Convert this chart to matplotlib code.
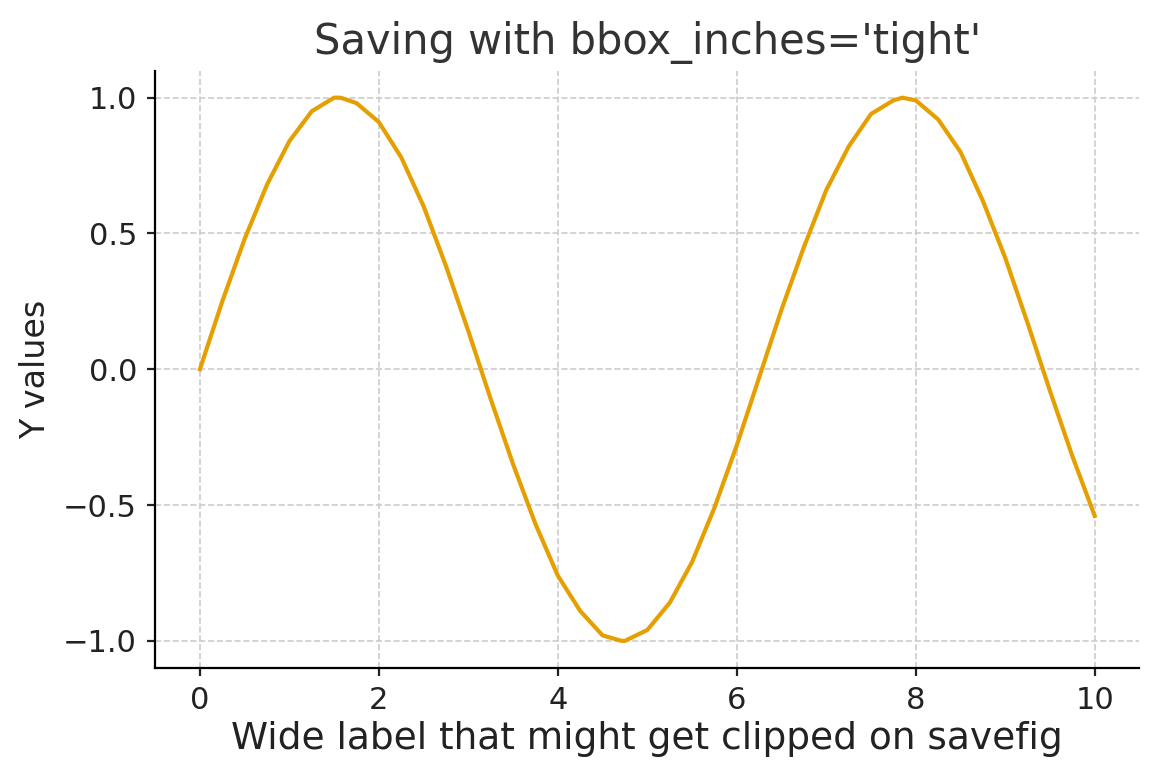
import matplotlib
matplotlib.use("Agg")
import matplotlib.pyplot as plt

x_vals = [0, .25, .5, .75, 1, 1.25, 1.5, 1.57, 1.75, 2, 2.25, 2.5, 2.75, 3, 3.25, 3.5, 3.75, 4, 4.25, 4.5, 4.71,
          4.75, 5, 5.25, 5.5, 5.75, 6, 6.25, 6.5, 6.75, 7, 7.25, 7.5, 7.75, 7.85, 8, 8.25, 8.5, 8.75, 9, 9.25, 9.5, 9.75, 10]
y_vals = [0, .25, .48, .68, .84, .95, 1.0, 1.0, .98, .91, .78, .60, .38, .14, -.11, -.35, -.57, -.76, -.89, -.98, -1.0,
          -1.0, -.96, -.86, -.71, -.51, -.28, -.03, .22, .45, .66, .82, .94, .99, 1.0, .99, .92, .80, .62, .41, .17, -.08, -.32, -.54]

fig = plt.figure(figsize=(5.79, 3.9), dpi=200)
ax = fig.add_axes([0.134, 0.1436, 0.850, 0.766])
ax.plot(x_vals, y_vals, color="#E69F00", lw=1.5)
ax.set_xlim(-0.5, 10.5)
ax.set_ylim(-1.1, 1.1)
ax.set_xticks([0, 2, 4, 6, 8, 10])
ax.set_yticks([-1.0, -0.5, 0.0, 0.5, 1.0])
ax.grid(True, ls="--", color="#cccccc", lw=0.6)
for s in ["top", "right"]:
    ax.spines[s].set_visible(False)
ax.tick_params(labelsize=11, colors="#222222", width=0.8, length=3)
ax.set_title("Saving with bbox_inches='tight'", fontsize=15, color="#333333")
ax.set_xlabel("Wide label that might get clipped on savefig", fontsize=13.5, color="#222222", labelpad=2)
ax.set_ylabel("Y values", fontsize=12, color="#222222")
fig.savefig("out.png", dpi=200)
